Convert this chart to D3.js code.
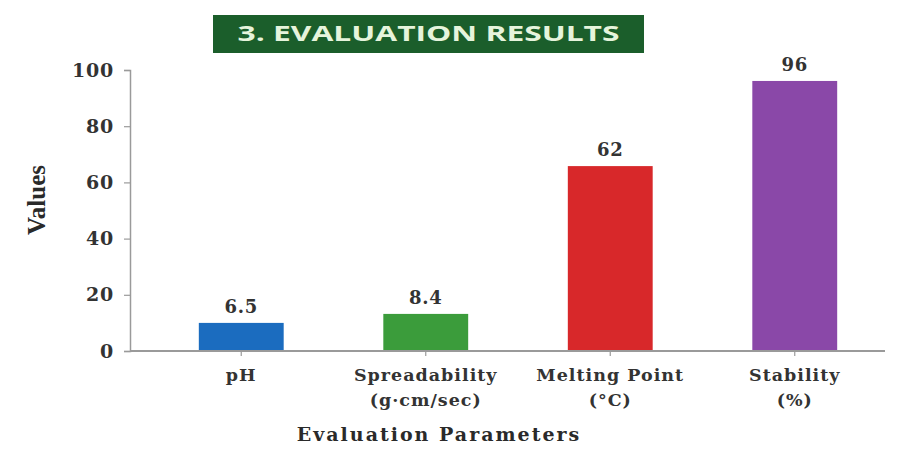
<!DOCTYPE html>
<html>
<head>
<meta charset="utf-8">
<script src="https://cdn.jsdelivr.net/npm/d3@7"></script>
<style>
  html, body { margin: 0; padding: 0; background: #ffffff; }
  svg { display: block; }
</style>
</head>
<body>
<svg id="chart" width="920" height="458"></svg>
<script>
// ---- data ----
const categories = ["pH", "Spreadability", "Melting Point", "Stability"];
const categoryUnits = ["", "(g\u00b7cm/sec)", "(\u00b0C)", "(%)"];
const barValues = [10, 13.2, 65.8, 96.1];          // bar heights as drawn
const valueLabels = ["6.5", "8.4", "62", "96"];     // labels printed above bars
const yTicks = [0, 20, 40, 60, 80, 100];
const barColors = ["#1b6cbf", "#3b9c3b", "#d8282a", "#8a48a8"];
const titleText = "3. EVALUATION RESULTS";
const xTitle = "Evaluation Parameters";
const yTitle = "Values";

// ---- layout ----
const svg = d3.select("#chart");
const axisX = 130, axisRight = 885;
const x = d3.scaleBand().domain(categories).range([149, 887]).paddingInner(0.54).paddingOuter(0.27);
const y = d3.scaleLinear().domain([0, 100]).range([351, 70]);
const serif = "'DejaVu Serif', serif";
const axisColor = "#9a9a9a";

// title box
svg.append("rect").attr("x", 213).attr("y", 15).attr("width", 431).attr("height", 38).attr("fill", "#1b5e2b");
svg.append("text").attr("x", 428.5).attr("y", 41).attr("text-anchor", "middle")
  .attr("font-family", "'Open Sans', sans-serif").attr("font-weight", 700).attr("font-size", 21)
  .attr("fill", "#e6f4dc").attr("textLength", 382).attr("lengthAdjust", "spacingAndGlyphs")
  .text(titleText);

// bars
svg.append("g").selectAll("rect").data(categories).join("rect")
  .attr("x", d => x(d)).attr("width", x.bandwidth())
  .attr("y", (d, i) => y(barValues[i])).attr("height", (d, i) => y(0) - y(barValues[i]))
  .attr("fill", (d, i) => barColors[i]);

// value labels
svg.append("g").selectAll("text").data(categories).join("text")
  .attr("x", d => x(d) + x.bandwidth() / 2).attr("y", (d, i) => y(barValues[i]) - 10)
  .attr("text-anchor", "middle").attr("font-family", serif).attr("font-size", 18).attr("font-weight", 600)
  .attr("letter-spacing", 0.8).attr("fill", "#333").text((d, i) => valueLabels[i]);

// y axis
const yAxis = svg.append("g").attr("transform", `translate(${axisX},0)`)
  .call(d3.axisLeft(y).tickValues(yTicks).tickSize(6).tickPadding(10));
yAxis.select(".domain").attr("stroke", axisColor).attr("stroke-width", 1.5);
yAxis.selectAll(".tick line").attr("stroke", axisColor).attr("stroke-width", 1.2);
yAxis.selectAll(".tick text").attr("font-family", serif).attr("font-size", 19).attr("font-weight", 600)
  .attr("letter-spacing", 0.8).attr("fill", "#333");

// x axis
const xAxis = svg.append("g").attr("transform", `translate(0,${y(0)})`)
  .call(d3.axisBottom(x).tickSize(5).tickFormat(""));
xAxis.select(".domain").remove();
xAxis.selectAll(".tick line").attr("stroke", axisColor).attr("stroke-width", 1.2);
svg.append("line").attr("x1", axisX).attr("x2", axisRight).attr("y1", y(0)).attr("y2", y(0))
  .attr("stroke", axisColor).attr("stroke-width", 2);

// category labels
const catG = svg.append("g").selectAll("text").data(categories).join("text")
  .attr("x", d => x(d) + x.bandwidth() / 2).attr("y", 381)
  .attr("text-anchor", "middle").attr("font-family", serif).attr("font-size", 17.5).attr("font-weight", 600)
  .attr("letter-spacing", 1).attr("fill", "#333");
catG.append("tspan").text(d => d);
catG.append("tspan").attr("x", d => x(d) + x.bandwidth() / 2).attr("dy", 25).text((d, i) => categoryUnits[i]);

// axis titles
svg.append("text").attr("x", 439).attr("y", 441).attr("text-anchor", "middle")
  .attr("font-family", serif).attr("font-size", 19).attr("font-weight", 700).attr("letter-spacing", 2)
  .attr("fill", "#2a2a2a").text(xTitle);
svg.append("text").attr("transform", "translate(45,200) rotate(-90)").attr("text-anchor", "middle")
  .attr("font-family", "'Liberation Serif', serif").attr("font-size", 25).attr("font-weight", 700).attr("fill", "#2a2a2a")
  .text(yTitle);
</script>
</body>
</html>
